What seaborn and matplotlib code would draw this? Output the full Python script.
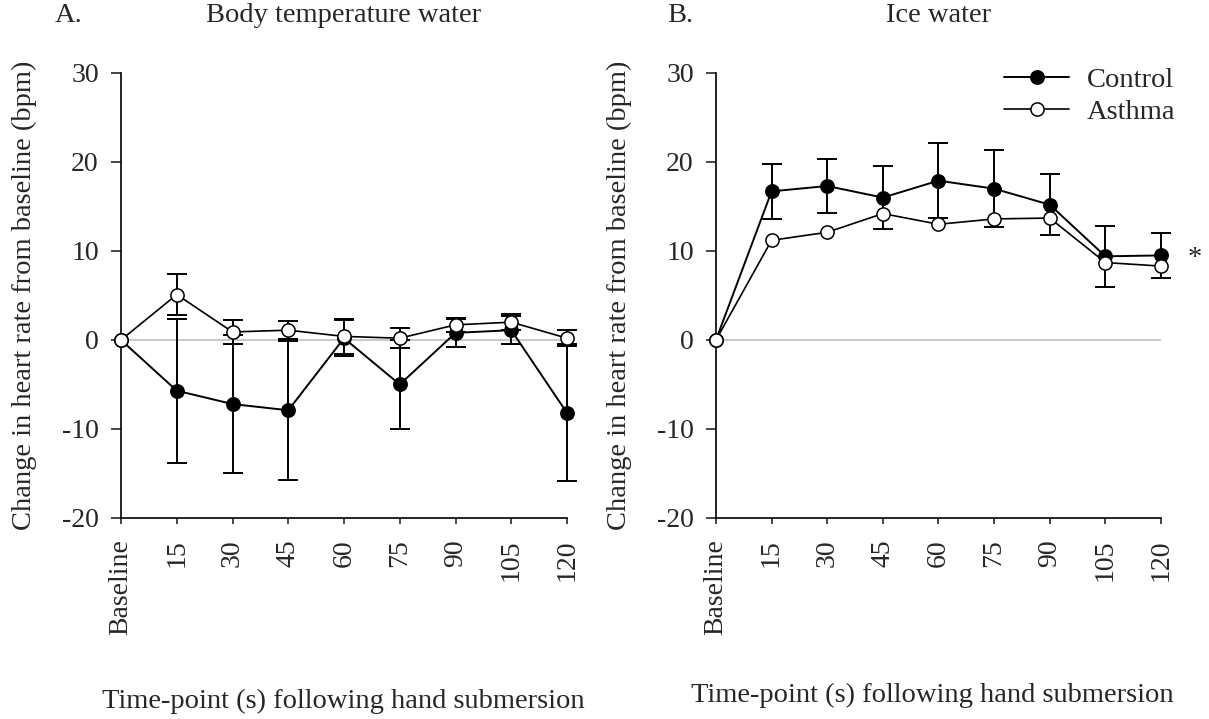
import numpy as np
import pandas as pd
import matplotlib
matplotlib.use("Agg")
import matplotlib.pyplot as plt
import seaborn as sns

# Time points and tick labels
timepoints = ["Baseline", "15", "30", "45", "60", "75", "90", "105", "120"]

# Panel A: body temperature water (mean change, SE)
bt_control = [0, -5.7, -7.2, -7.9, 0.2, -5.0, 0.8, 1.1, -8.2]
bt_control_se = [0, 8.1, 7.8, 7.8, 2.0, 5.0, 1.6, 1.6, 7.7]
bt_asthma = [0, 5.1, 0.9, 1.1, 0.4, 0.2, 1.7, 2.0, 0.2]
bt_asthma_se = [0, 2.3, 1.3, 1.0, 2.0, 1.1, 0.8, 0.9, 0.9]

# Panel B: ice water (mean change, SE for controls)
ice_control = [0, 16.7, 17.3, 16.0, 17.9, 17.0, 15.2, 9.4, 9.5]
ice_control_se = [0, 3.1, 3.0, 3.5, 4.2, 4.3, 3.4, 3.4, 2.5]
ice_asthma = [0, 11.2, 12.1, 14.2, 13.0, 13.6, 13.7, 8.7, 8.3]

sns.set_theme(style="ticks")
plt.rcParams["font.family"] = ["Liberation Serif", "DejaVu Serif"]
plt.rcParams["axes.unicode_minus"] = False

FS = 20.5
fig = plt.figure(figsize=(12.09, 7.19), dpi=100)
ax_a = fig.add_axes([0.1001, 0.2796, 0.3689, 0.6189])
ax_b = fig.add_axes([0.5922, 0.2796, 0.3681, 0.6189])

pos = np.arange(len(timepoints))


def draw_panel(ax, ctrl, ctrl_se, asth, asth_se=None):
    ax.axhline(0, color="#c0c0c0", lw=1.2, zorder=1)
    df = pd.DataFrame({
        "pos": np.concatenate([pos, pos]),
        "val": ctrl + asth,
        "group": ["Control"] * len(pos) + ["Asthma"] * len(pos),
    })
    ebkw = dict(fmt="none", ecolor="black", elinewidth=1.4, capsize=7,
                capthick=1.4, zorder=2, clip_on=False)
    ax.errorbar(pos[1:], ctrl[1:], yerr=ctrl_se[1:], **ebkw)
    if asth_se is not None:
        ax.errorbar(pos[1:], asth[1:], yerr=asth_se[1:], **ebkw)
    sns.lineplot(data=df[df.group == "Control"], x="pos", y="val", ax=ax,
                 color="black", lw=1.4, marker="o", markersize=9.5,
                 markerfacecolor="black", markeredgecolor="black",
                 markeredgewidth=1.2, label="Control", zorder=3, clip_on=False)
    sns.lineplot(data=df[df.group == "Asthma"], x="pos", y="val", ax=ax,
                 color="black", lw=1.2, marker="o", markersize=9.5,
                 markerfacecolor="white", markeredgecolor="black",
                 markeredgewidth=1.1, label="Asthma", zorder=4, clip_on=False)
    ax.set_xlim(0, 8)
    ax.set_ylim(-20, 30)
    ax.set_yticks([-20, -10, 0, 10, 20, 30])
    ax.set_xticks(pos)
    ax.set_xticklabels(timepoints, rotation=90, fontsize=20)
    ax.tick_params(axis="y", labelsize=20, length=7, width=1.2, direction="out", pad=9)
    ax.tick_params(axis="x", length=4.5, width=1.2, direction="out", pad=11)
    for s in ["top", "right"]:
        ax.spines[s].set_visible(False)
    for s in ["left", "bottom"]:
        ax.spines[s].set_linewidth(1.2)
        ax.spines[s].set_color("black")
    ax.set_xlabel("")
    ax.set_ylabel("Change in heart rate from baseline (bpm)", fontsize=FS)
    ax.yaxis.set_label_coords(-0.188, 0.5)


draw_panel(ax_a, bt_control, bt_control_se, bt_asthma, bt_asthma_se)
draw_panel(ax_b, ice_control, ice_control_se, ice_asthma)

ax_a.get_legend().remove()
ax_b.legend(loc="upper left", bbox_to_anchor=(1004 / 1209, 1 - 67 / 719),
            bbox_transform=fig.transFigure, frameon=False, fontsize=FS,
            handlelength=2.3, handletextpad=0.6, labelspacing=0.2,
            borderpad=0, borderaxespad=0, markerscale=1.0)

fig.text(0.045, 0.978, "A.", fontsize=FS, ha="left", va="center")
fig.text(0.284, 0.978, "Body temperature water", fontsize=FS, ha="center", va="center")
fig.text(0.552, 0.978, "B.", fontsize=FS, ha="left", va="center")
fig.text(0.776, 0.978, "Ice water", fontsize=FS, ha="center", va="center")

fig.text(0.284, 0.025, "Time-point (s) following hand submersion", fontsize=FS,
         ha="center", va="center")
fig.text(0.771, 0.033, "Time-point (s) following hand submersion", fontsize=FS,
         ha="center", va="center")

ax_b.text(8.6, 9.1, "*", fontsize=FS, ha="center", va="center")

fig.savefig("out.png", dpi=100)
